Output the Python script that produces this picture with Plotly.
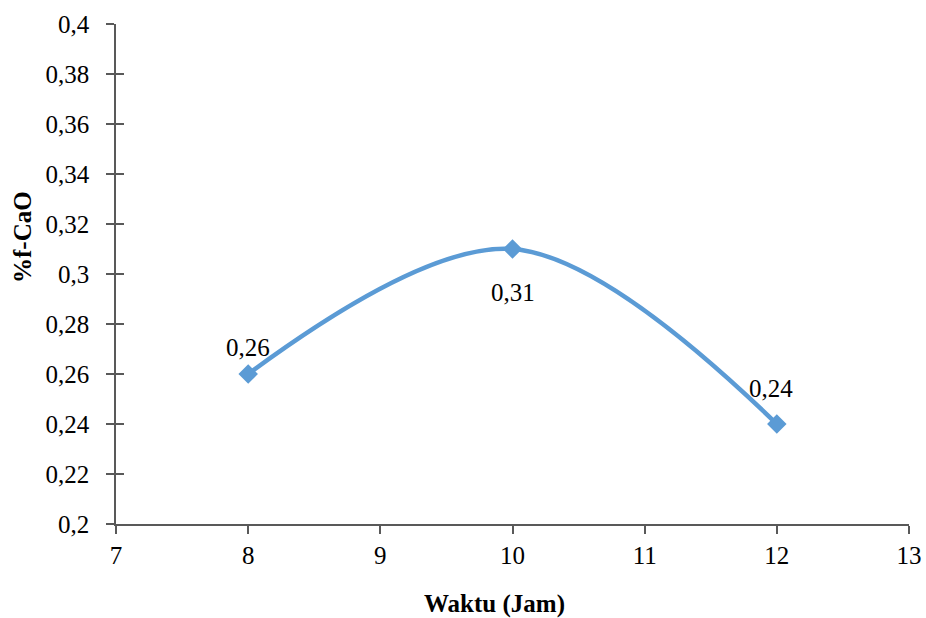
import plotly.graph_objects as go

waktu = [8, 10, 12]
fcao = [0.26, 0.31, 0.24]

labels = [f"{v:.2f}".replace(".", ",") for v in fcao]

# label placement style (pixels): above, below, above
label_yshift = [27, -43, 36]
label_xshift = [0, 0, -6]

blue = "#5B9BD5"
font_family = "Times New Roman"
axis_gray = "#595959"

fig = go.Figure()
fig.add_trace(go.Scatter(
    x=waktu, y=fcao,
    mode="lines+markers",
    line=dict(color=blue, width=4.5, shape="spline", smoothing=1.0),
    marker=dict(symbol="diamond", size=15, color=blue),
    showlegend=False,
    cliponaxis=False,
))
# invisible trace on overlay axis to get crossing y ticks
fig.add_trace(go.Scatter(x=waktu, y=fcao, yaxis="y2", mode="markers",
                         marker=dict(opacity=0), showlegend=False, hoverinfo="skip"))

for xv, yv, txt, ys, xs in zip(waktu, fcao, labels, label_yshift, label_xshift):
    fig.add_annotation(x=xv, y=yv, xref="x", yref="y", text=txt, showarrow=False,
                       yshift=ys, xshift=xs,
                       font=dict(family=font_family, size=25, color="#000000"))

# axis titles
fig.add_annotation(text="<b>Waktu (Jam)</b>", xref="paper", yref="paper",
                   x=(494 - 116) / (909 - 116), y=-(604 - 524) / 500,
                   xanchor="center", yanchor="middle", showarrow=False,
                   font=dict(family=font_family, size=25, color="#000000"))
fig.add_annotation(text="<b>%f-CaO</b>", xref="paper", yref="paper",
                   x=-(116 - 22) / (909 - 116), y=(524 - 237) / 500,
                   xanchor="center", yanchor="middle", showarrow=False, textangle=-90,
                   font=dict(family=font_family, size=25, color="#000000"))

fig.update_layout(
    width=926, height=618,
    margin=dict(l=116, r=17, t=24, b=94),
    paper_bgcolor="white", plot_bgcolor="white",
    separators=", ",
    font=dict(family=font_family, size=25, color="#000000"),
    xaxis=dict(
        range=[7, 13], dtick=1, tick0=7,
        showgrid=False, zeroline=False,
        showline=True, linecolor=axis_gray, linewidth=1.5,
        ticks="outside", ticklen=8, tickcolor=axis_gray, tickwidth=1.5,
        tickfont=dict(family=font_family, size=25),
        automargin=False,
    ),
    yaxis=dict(
        range=[0.2, 0.4], dtick=0.02, tick0=0.2,
        showgrid=False, zeroline=False,
        showline=True, linecolor=axis_gray, linewidth=1.5,
        ticks="outside", ticklen=8, tickcolor=axis_gray, tickwidth=1.5,
        tickfont=dict(family=font_family, size=25),
        ticklabelstandoff=12,
        automargin=False,
    ),
    yaxis2=dict(
        range=[0.2, 0.4], dtick=0.02, tick0=0.2, overlaying="y", side="left",
        showgrid=False, zeroline=False, showline=False,
        ticks="inside", ticklen=8, tickcolor=axis_gray, tickwidth=1.5,
        showticklabels=False,
    ),
)

fig.write_html("out.html")
